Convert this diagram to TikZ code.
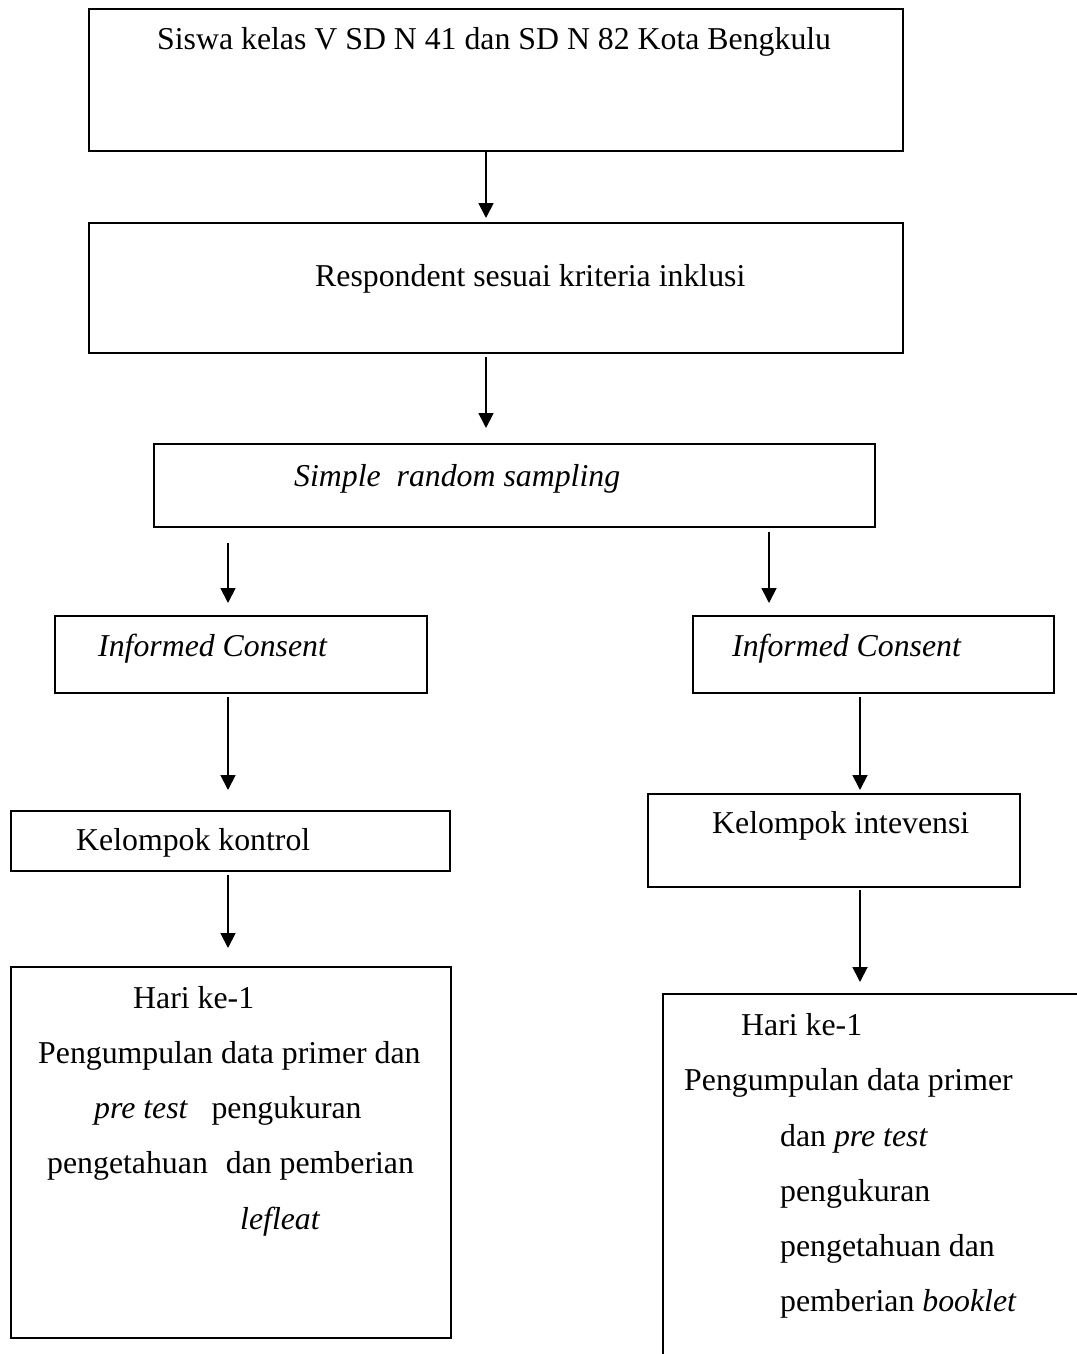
\documentclass[tikz,border=0pt]{standalone}
\usepackage{fontspec}
\setmainfont{Liberation Serif}
\usetikzlibrary{arrows.meta}
\begin{document}
\begin{tikzpicture}[x=1pt,y=-1pt,
  box/.style={draw, line width=1.8pt, rectangle, inner sep=0pt, anchor=north west},
  txt/.style={inner sep=0pt, anchor=base west, font=\fontsize{31.8}{38}\selectfont},
  arr/.style={line width=1.8pt, -{Triangle[width=15pt,length=15pt]}}]
\useasboundingbox[fill=white] (0,0) rectangle (1076,1354);

% boxes (top-left corner, size)
\node[box, minimum width=814pt, minimum height=142pt] (b1) at (88,8) {};
\node[box, minimum width=814pt, minimum height=130pt] (b2) at (88,222) {};
\node[box, minimum width=721pt, minimum height=83pt] (b3) at (153,443) {};
\node[box, minimum width=372pt, minimum height=77pt] (icl) at (54,615) {};
\node[box, minimum width=361pt, minimum height=77pt] (icr) at (692,615) {};
\node[box, minimum width=439pt, minimum height=60pt] (kk) at (10,810) {};
\node[box, minimum width=372pt, minimum height=93pt] (ki) at (647,793) {};
\node[box, minimum width=440pt, minimum height=371pt] (hl) at (10,966) {};
% right-hand day box runs past the page edge: only its top and left sides show
\node[inner sep=0pt, anchor=north west, minimum width=420pt, minimum height=370pt] (hr) at (663,994) {};
\draw[line width=1.8pt] (hr.south west) -- (hr.north west) -- (hr.north east);

% labels
\node[txt] (t1) at (157,50) {Siswa kelas V SD N 41 dan SD N 82 Kota Bengkulu};
\node[txt] (t2) at (315,286) {Respondent sesuai kriteria inklusi};
\node[txt] (t3) at (294,486) {\itshape Simple\ \ random sampling};
\node[txt] (t4) at (98,656) {\itshape Informed Consent};
\node[txt] (t5) at (732,656) {\itshape Informed Consent};
\node[txt] (t6) at (76,850) {Kelompok kontrol};
\node[txt] (t7) at (712,833) {Kelompok intevensi};

\node[txt] (l1) at (133,1008) {Hari ke-1};
\node[txt] (l2) at (38,1063) {Pengumpulan data primer dan};
\node[txt] (l3) at (94,1118) {\itshape pre test\upshape\hspace{24pt}pengukuran};
\node[txt] (l4) at (47,1173) {pengetahuan\hspace{10pt} dan pemberian};
\node[txt] (l5) at (240,1229) {\itshape lefleat};

\node[txt] (r1) at (741,1035) {Hari ke-1};
\node[txt] (r2) at (684,1090) {Pengumpulan data primer};
\node[txt] (r3) at (780,1146) {dan \itshape pre test};
\node[txt] (r4) at (780,1201) {pengukuran};
\node[txt] (r5) at (780,1256) {pengetahuan dan};
\node[txt] (r6) at (780,1311) {pemberian \itshape booklet};

% connectors
\coordinate (cx) at (486,0);
\coordinate (lx) at (228,0);
\coordinate (rx) at (769,0);
\coordinate (rx2) at (860,0);
\draw[arr] (b1.south -| cx) -- ([yshift=4pt]b2.north -| cx);
\draw[arr] ([yshift=-3pt]b2.south -| cx) -- ([yshift=15pt]b3.north -| cx);
\draw[arr] ([yshift=-15pt]b3.south -| lx) -- ([yshift=12pt]icl.north -| lx);
\draw[arr] ([yshift=-4pt]b3.south -| rx) -- ([yshift=12pt]icr.north -| rx);
\draw[arr] ([yshift=-3pt]icl.south -| lx) -- ([yshift=20pt]kk.north -| lx);
\draw[arr] ([yshift=-3pt]icr.south -| rx2) -- ([yshift=3pt]ki.north -| rx2);
\draw[arr] ([yshift=-3pt]kk.south -| lx) -- ([yshift=18pt]hl.north -| lx);
\draw[arr] ([yshift=-2pt]ki.south -| rx2) -- ([yshift=12pt]hr.north -| rx2);
\end{tikzpicture}
\end{document}
